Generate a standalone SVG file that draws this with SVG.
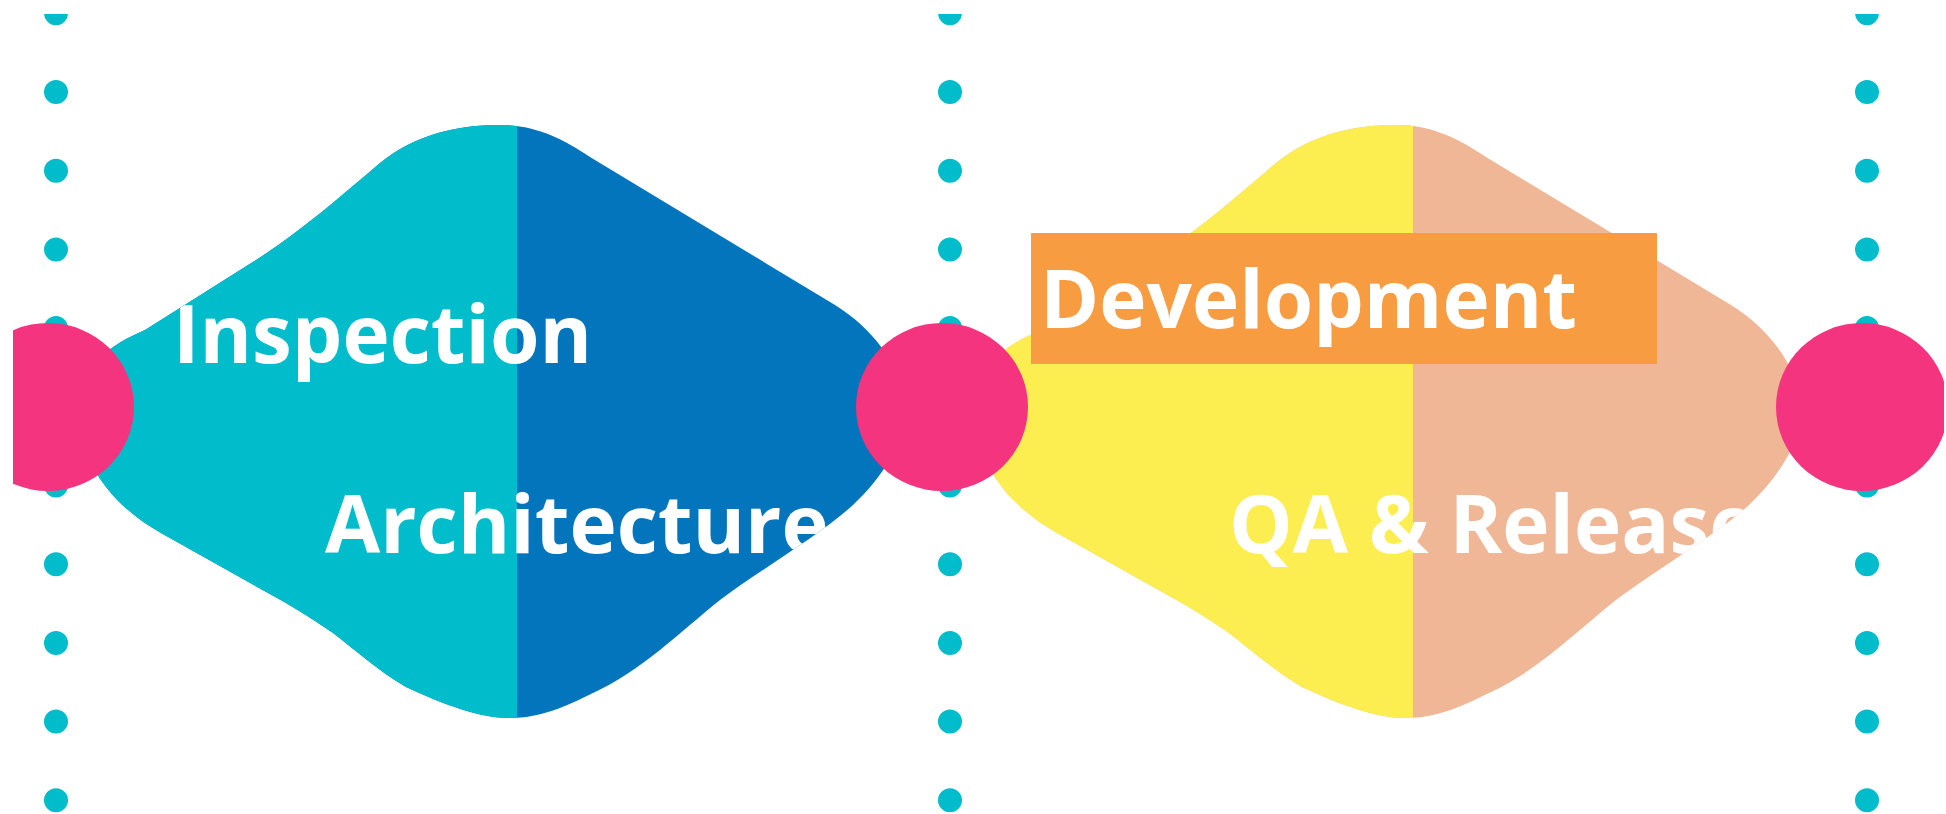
<svg xmlns="http://www.w3.org/2000/svg" width="1946" height="814" viewBox="0 0 1946 814">
<defs>
<style>
.dots{stroke:#01BCCB;stroke-width:24;stroke-linecap:round;stroke-dasharray:0 78.7;fill:none}
.joint{fill:#F4347F}
.lbl{font-family:"Open Sans","Liberation Sans",sans-serif;font-weight:700;font-size:80px;fill:#FFFFFF}
</style>
<path id="blob" d="M500,125 C535,125 562,138 590,157 L835,305 C872,328 898,362 908,405 C905,442 882,478 853,505 C820,535 760,570 720,600 C680,632 640,672 593,693 C565,707 540,718 510,718 C480,718 445,705 406,687 C380,672 355,650 333,633 C310,617 290,605 268,593 L161,533 C120,510 80,470 78,410 C80,365 110,345 145,330 L256,260 C300,232 340,197 380,163 C415,135 455,125 500,125 Z"/>
<clipPath id="frame"><rect x="13" y="14" width="1931" height="800"/></clipPath>
<clipPath id="blobClip"><use href="#blob"/></clipPath>
</defs>
<rect width="1946" height="814" fill="#FFFFFF"/>
<g clip-path="url(#frame)">
<g id="guides">
<line class="dots" x1="56" y1="13.3" x2="56" y2="802"/>
<line class="dots" x1="950" y1="13.3" x2="950" y2="802"/>
<line class="dots" x1="1867" y1="13.3" x2="1867" y2="802"/>
</g>
<g id="connectors"></g>
<g id="node-inspection-architecture">
<use href="#blob" fill="#0275BC"/>
<g clip-path="url(#blobClip)">
<rect x="0" y="100" width="517" height="650" fill="#01BCCB"/>
<text class="lbl" x="173" y="363">Inspection</text>
<text class="lbl" x="325" y="553">Architecture</text>
</g>
</g>
<g id="node-development-qa">
<g transform="translate(896 0)">
<use href="#blob" fill="#F0B796"/>
<g clip-path="url(#blobClip)">
<rect x="0" y="100" width="517" height="650" fill="#FCEE50"/>
<text class="lbl" x="333" y="553">QA &amp; Release</text>
</g>
</g>
<rect x="1031" y="233" width="626" height="131" fill="#F89C42"/>
<text class="lbl" x="1040" y="328">Development</text>
</g>
<g id="joint-1"><ellipse class="joint" cx="48" cy="407" rx="86" ry="84"/></g>
<g id="joint-2"><ellipse class="joint" cx="942" cy="407" rx="86" ry="84"/></g>
<g id="joint-3"><ellipse class="joint" cx="1862" cy="407" rx="86" ry="84"/></g>
</g>
</svg>
